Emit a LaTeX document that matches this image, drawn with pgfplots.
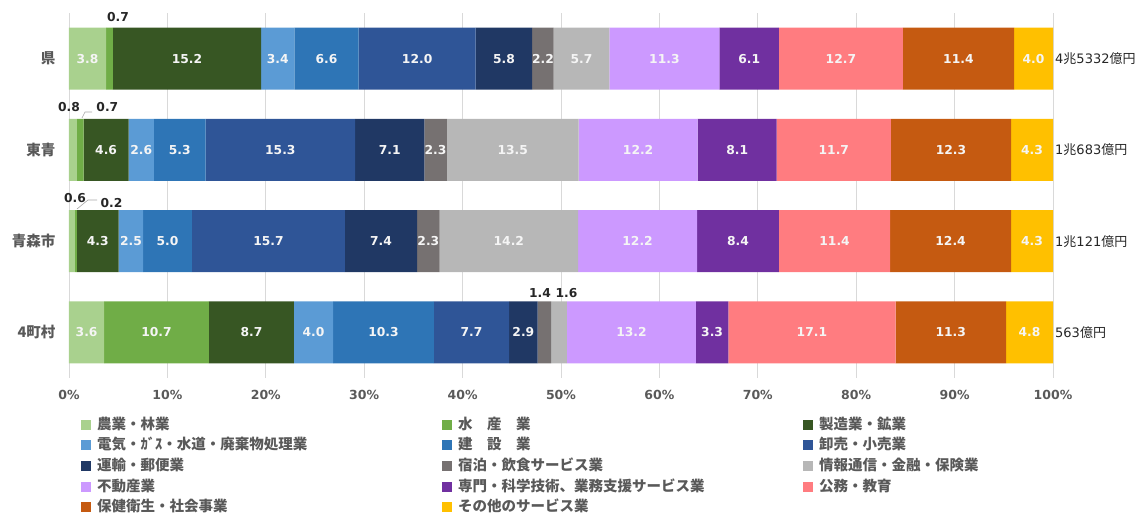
\documentclass[border=0pt]{standalone}
\usepackage{pgfplots}
\pgfplotsset{compat=1.18}
\usepackage{pgfplotstable}
\usepackage{fontspec}
\setmainfont{DejaVu Sans}
\newfontfamily\jp{Noto Sans CJK JP}
\definecolor{c1}{HTML}{A9D18E}
\definecolor{c2}{HTML}{70AD47}
\definecolor{c3}{HTML}{375623}
\definecolor{c4}{HTML}{5B9BD5}
\definecolor{c5}{HTML}{2E75B6}
\definecolor{c6}{HTML}{2F5597}
\definecolor{c7}{HTML}{203864}
\definecolor{c8}{HTML}{767171}
\definecolor{c9}{HTML}{B7B7B7}
\definecolor{c10}{HTML}{CC99FF}
\definecolor{c11}{HTML}{7030A0}
\definecolor{c12}{HTML}{FF7C80}
\definecolor{c13}{HTML}{C55A11}
\definecolor{c14}{HTML}{FFC000}
\definecolor{txtgray}{HTML}{595959}
\definecolor{gridgray}{HTML}{D9D9D9}
\definecolor{darktxt}{HTML}{262626}

% pos: 0=県, 1=東青, 2=青森市, 3=4町村
\pgfplotstableread{
pos v1  v2   v3   v4  v5   v6   v7  v8  v9   v10  v11 v12  v13  v14
0   3.8 0.7  15.2 3.4 6.6  12.0 5.8 2.2 5.7  11.3 6.1 12.7 11.4 4.0
1   0.8 0.7  4.6  2.6 5.3  15.3 7.1 2.3 13.5 12.2 8.1 11.7 12.3 4.3
2   0.6 0.2  4.3  2.5 5.0  15.7 7.4 2.3 14.2 12.2 8.4 11.4 12.4 4.3
3   3.6 10.7 8.7  4.0 10.3 7.7  2.9 1.4 1.6  13.2 3.3 17.1 11.3 4.8
}\data
% running sums across the categories (c14 = row total)
\pgfplotstablecreatecol[create col/expr={\thisrow{v1}}]{c1}\data
\pgfplotstablecreatecol[create col/expr={\thisrow{c1}+\thisrow{v2}}]{c2}\data
\pgfplotstablecreatecol[create col/expr={\thisrow{c2}+\thisrow{v3}}]{c3}\data
\pgfplotstablecreatecol[create col/expr={\thisrow{c3}+\thisrow{v4}}]{c4}\data
\pgfplotstablecreatecol[create col/expr={\thisrow{c4}+\thisrow{v5}}]{c5}\data
\pgfplotstablecreatecol[create col/expr={\thisrow{c5}+\thisrow{v6}}]{c6}\data
\pgfplotstablecreatecol[create col/expr={\thisrow{c6}+\thisrow{v7}}]{c7}\data
\pgfplotstablecreatecol[create col/expr={\thisrow{c7}+\thisrow{v8}}]{c8}\data
\pgfplotstablecreatecol[create col/expr={\thisrow{c8}+\thisrow{v9}}]{c9}\data
\pgfplotstablecreatecol[create col/expr={\thisrow{c9}+\thisrow{v10}}]{c10}\data
\pgfplotstablecreatecol[create col/expr={\thisrow{c10}+\thisrow{v11}}]{c11}\data
\pgfplotstablecreatecol[create col/expr={\thisrow{c11}+\thisrow{v12}}]{c12}\data
\pgfplotstablecreatecol[create col/expr={\thisrow{c12}+\thisrow{v13}}]{c13}\data
\pgfplotstablecreatecol[create col/expr={\thisrow{c13}+\thisrow{v14}}]{c14}\data

\begin{document}
\begin{tikzpicture}
\useasboundingbox (-69pt,-140pt) rectangle (1074pt,378pt);
\begin{axis}[
  at={(0pt,0pt)}, anchor=south west,
  scale only axis, width=984pt, height=365pt,
  xbar stacked, bar width=62pt,
  xmin=0, xmax=100, ymin=-0.5, ymax=3.5, y dir=reverse,
  xtick={0,10,...,100},
  xticklabel={\pgfmathprintnumber{\tick}\%},
  /pgf/number format/assume math mode=true,
  ytick={0,1,2,3},
  yticklabels={県,東青,青森市,4町村},
  yticklabel style={font=\jp\bfseries\fontsize{14.5}{16}\selectfont, text=txtgray, xshift=-10pt},
  xticklabel style={font=\bfseries\fontsize{12.5}{14}\selectfont, text=txtgray, yshift=-9pt},
  major tick length=0pt,
  axis line style={draw=none},
  xmajorgrids, grid style={gridgray, line width=0.8pt},
  cycle list={{fill=c1,draw=none},{fill=c2,draw=none},{fill=c3,draw=none},{fill=c4,draw=none},
    {fill=c5,draw=none},{fill=c6,draw=none},{fill=c7,draw=none},{fill=c8,draw=none},
    {fill=c9,draw=none},{fill=c10,draw=none},{fill=c11,draw=none},{fill=c12,draw=none},
    {fill=c13,draw=none},{fill=c14,draw=none}},
  legend columns=3,
  legend image code/.code={\fill[#1] (0pt,-5pt) rectangle (10pt,5pt);},
  legend style={at={(axis description cs:0.0122,-0.107)}, anchor=north west,
    draw=none, fill=none, inner sep=0pt, outer sep=0pt,
    font=\jp\bfseries\fontsize{14.5}{16}\selectfont, text=txtgray,
    row sep=5.7pt,
    nodes={inner sep=0pt, text height=12pt, text depth=3pt},
    /tikz/every odd column/.append style={column sep=6pt},
    /tikz/every even column/.append style={text width=345pt}},
  legend cell align=left,
  legend entries={農業・林業, 水　産　業, 製造業・鉱業,
    電気・ｶﾞｽ・水道・廃棄物処理業, 建　設　業, 卸売・小売業,
    運輸・郵便業, 宿泊・飲食サービス業, 情報通信・金融・保険業,
    不動産業, 専門・科学技術、業務支援サービス業, 公務・教育,
    保健衛生・社会事業, その他のサービス業},
]
\pgfplotsinvokeforeach{1,...,14}{
  \addplot+[] table[x expr={\thisrow{v#1}*100/\thisrow{c14}}, y=pos]{\data};
}
\end{axis}
% overlay axis for the value labels
\begin{axis}[
  at={(0pt,0pt)}, anchor=south west,
  scale only axis, width=984pt, height=365pt,
  xmin=0, xmax=100, ymin=-0.5, ymax=3.5, y dir=reverse,
  hide axis, clip=false,
]
\pgfplotsinvokeforeach{1,...,14}{
  \addplot[only marks, mark=none, nodes near coords, point meta=explicit symbolic,
    restrict expr to domain={\thisrow{v#1}}{2:1000},
    every node near coord/.append style={anchor=center,
      font=\bfseries\fontsize{12.3}{14}\selectfont, text=white!96!black, inner sep=0pt}]
    table[x expr={(\thisrow{c#1}-\thisrow{v#1}/2)*100/\thisrow{c14}}, y=pos, meta=v#1]{\data};
}
% small-value labels above the bars
\begin{scope}[every node/.style={font=\bfseries\fontsize{12.3}{14}\selectfont, text=darktxt, inner sep=0pt}]
\node at (axis cs:4.98,-0.455) {0.7};
\node at (axis cs:0.0,0.53) {0.8};
\node at (axis cs:3.9,0.53) {0.7};
\node at (axis cs:0.61,1.527) {0.6};
\node at (axis cs:4.32,1.58) {0.2};
\node at (axis cs:47.87,2.568) {1.4};
\node at (axis cs:50.56,2.568) {1.6};
\end{scope}
\draw[gray!70, line width=0.6pt] (axis cs:1.32,0.65) -- (axis cs:1.63,0.585) -- (axis cs:2.34,0.585);
\draw[gray!70, line width=0.6pt] (axis cs:0.81,1.648) -- (axis cs:1.93,1.549) -- (axis cs:2.85,1.549);
% totals at the right
\begin{scope}[every node/.style={anchor=west, font=\fontsize{13}{15}\selectfont, text=darktxt, inner sep=0pt, xshift=2pt}]
\node at (axis cs:100,0) {4{\jp 兆}5332{\jp 億円}};
\node at (axis cs:100,1) {1{\jp 兆}683{\jp 億円}};
\node at (axis cs:100,2) {1{\jp 兆}121{\jp 億円}};
\node at (axis cs:100,3) {563{\jp 億円}};
\end{scope}
\end{axis}
\end{tikzpicture}
\end{document}
